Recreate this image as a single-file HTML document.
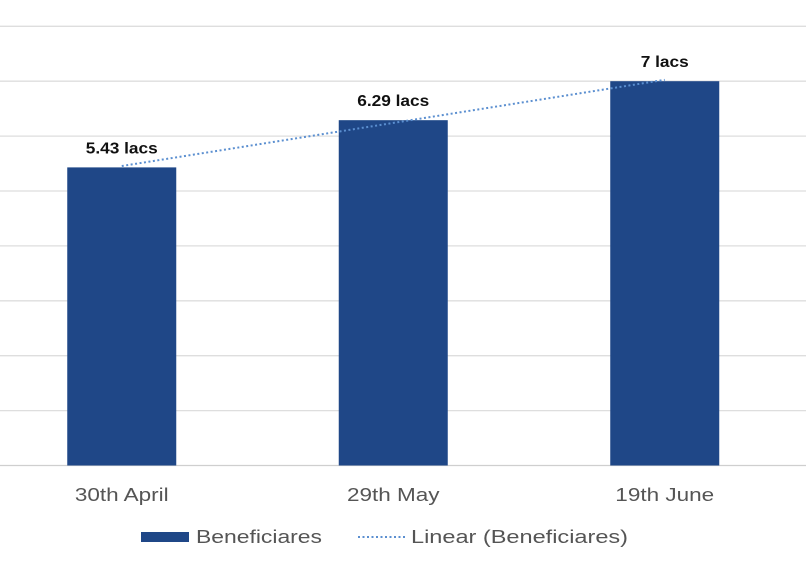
<!DOCTYPE html>
<html><head><meta charset="utf-8"><style>
body{margin:0;background:#fff;}
svg{display:block;font-family:"Liberation Sans",Arial,sans-serif;}
</style></head><body>
<svg id="c" width="806" height="566"></svg>
<script>
const categories=["30th April","29th May","19th June"];
const values=[5.43,6.29,7];
const valueLabels=["5.43 lacs","6.29 lacs","7  lacs"];
const gridTicks=[0,1,2,3,4,5,6,7,8];
const svg=document.getElementById('c');
const NS='http://www.w3.org/2000/svg';
const y0=465.5,step=54.9,catW=271.5,catStart=-14,barW=109;
const y=v=>y0-v*step;
const cx=i=>catStart+catW*(i+0.5);
function mk(t,a,p){const e=document.createElementNS(NS,t);for(const k in a)e.setAttribute(k,a[k]);(p||svg).appendChild(e);return e;}
function fit(t,scale){const w=t.getComputedTextLength();t.setAttribute('textLength',w*scale);t.setAttribute('lengthAdjust','spacingAndGlyphs');}
gridTicks.forEach(t=>{
 const l=mk('line',{x1:0,x2:806,y1:y(t),y2:y(t),stroke:t===0?'#cfcfcf':'#dedede','stroke-width':1.3});
 
 
});
values.forEach((v,i)=>{
 const r=mk('rect',{x:cx(i)-barW/2,y:y(v),width:barW,height:y0-y(v),fill:'#1f4787'});
 
 
 const t=mk('text',{x:cx(i),y:y(v)-14,'text-anchor':'middle','font-size':'16','font-weight':'bold',fill:'#111'});
 t.textContent=valueLabels[i];
 fit(t,1.08);
 
 
 const c=mk('text',{x:cx(i),y:501,'text-anchor':'middle','font-size':'18',fill:'#555'});
 c.textContent=categories[i];
 fit(c,1.25);
 
 
});
const n=values.length,mx=(n-1)/2,my=values.reduce((a,b)=>a+b)/n;
let sxy=0,sxx=0;values.forEach((v,i)=>{sxy+=(i-mx)*(v-my);sxx+=(i-mx)*(i-mx);});
const sl=sxy/sxx,ic=my-sl*mx;
const tl=mk('line',{x1:cx(0),y1:y(ic),x2:cx(n-1),y2:y(ic+sl*(n-1)),stroke:'#5b8fd0','stroke-width':2,'stroke-dasharray':'2 2.5'});


const g=mk('g',{});


const s1=mk('rect',{x:141,y:532,width:48,height:10,fill:'#1f4787'},g);


const t1=mk('text',{x:196,y:543,'font-size':'18',fill:'#555'},g);t1.textContent='Beneficiares';
t1.setAttribute('textLength',126);t1.setAttribute('lengthAdjust','spacingAndGlyphs');


const s2=mk('line',{x1:358,x2:406,y1:537,y2:537,stroke:'#5b8fd0','stroke-width':2,'stroke-dasharray':'2 2.5'},g);


const t2=mk('text',{x:411,y:543,'font-size':'18',fill:'#555'},g);t2.textContent='Linear (Beneficiares)';
t2.setAttribute('textLength',217);t2.setAttribute('lengthAdjust','spacingAndGlyphs');


</script>
</body></html>
